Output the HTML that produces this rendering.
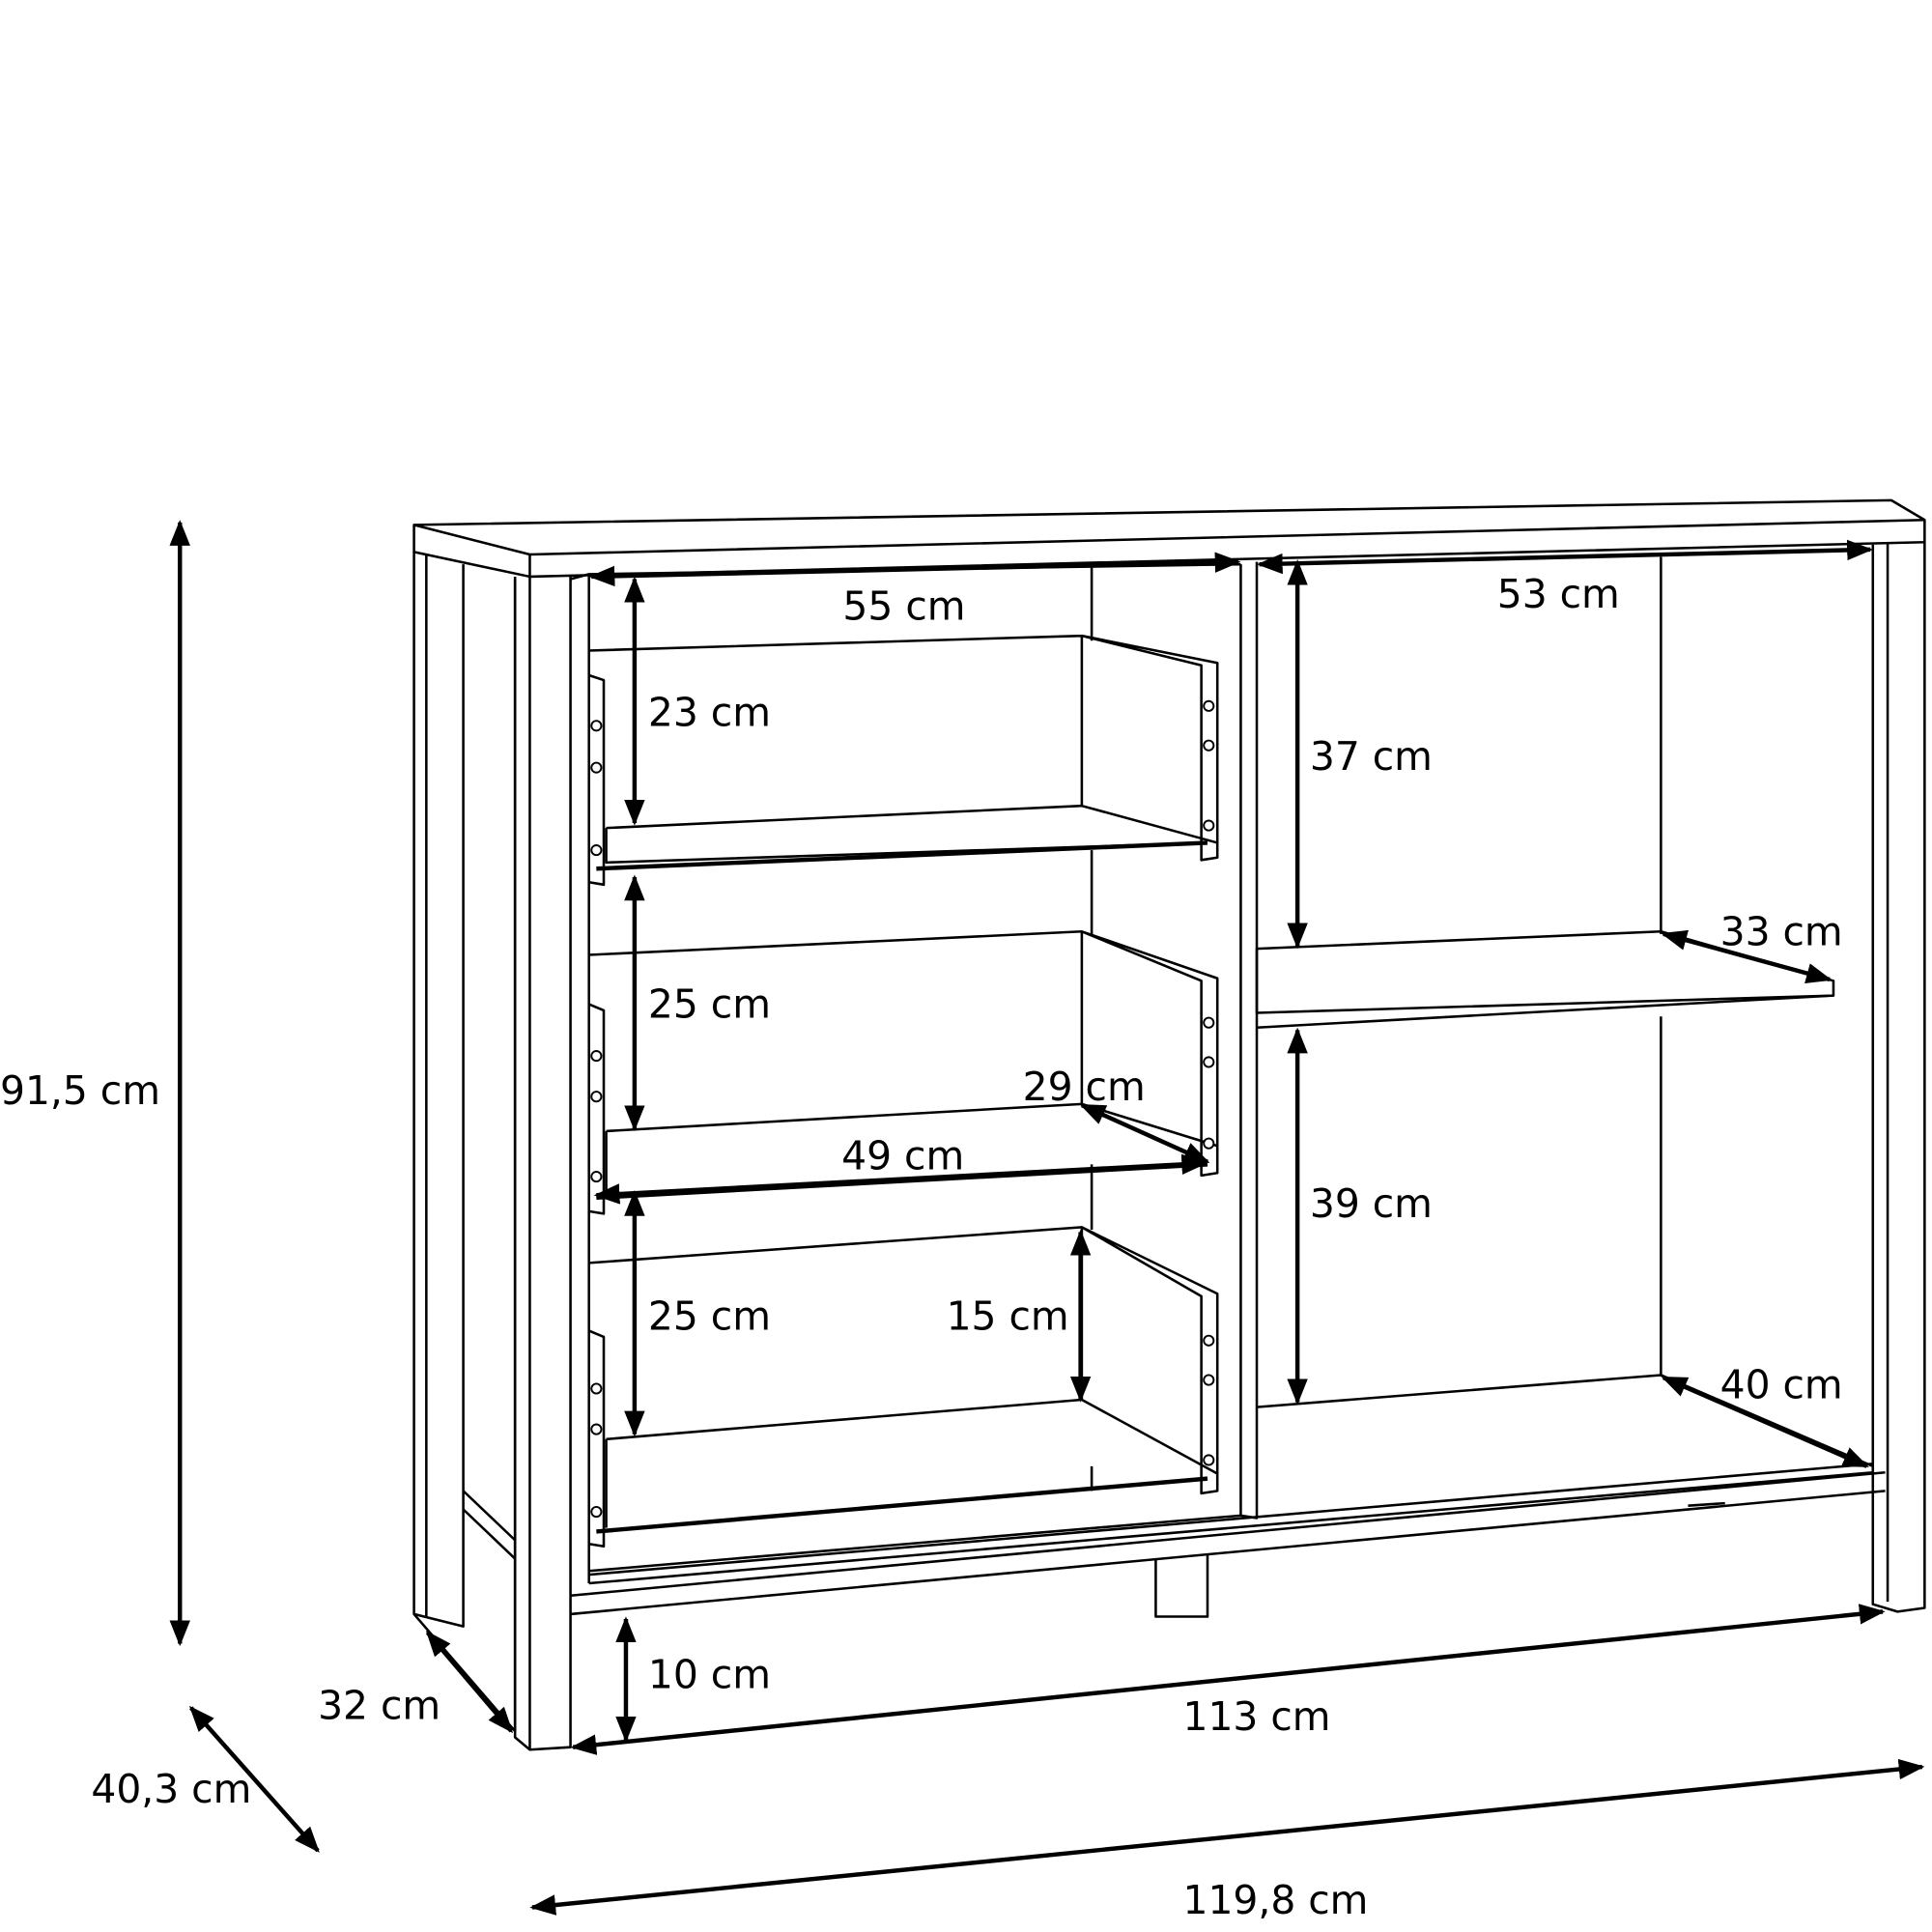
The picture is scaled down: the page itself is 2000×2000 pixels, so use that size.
<!DOCTYPE html>
<html><head><meta charset="utf-8"><style>
html,body{margin:0;padding:0;background:#fff}
svg{display:block}
text{font-family:"DejaVu Sans","Liberation Sans",sans-serif;font-size:32px;fill:#000}
</style></head><body>
<svg width="2000" height="2000" viewBox="0 0 1568 1568" xmlns="http://www.w3.org/2000/svg">
<defs>
<marker id="a" viewBox="0 0 10 10" refX="9" refY="5" markerWidth="6" markerHeight="6" orient="auto-start-reverse" markerUnits="strokeWidth">
<path d="M0,1 L10,5 L0,9 z" fill="#000"/></marker>
</defs>
<g fill="none" stroke="#000" stroke-width="2" stroke-linejoin="round">
<path d="M336,426 L1535,406 L1562,422 L1562,440 L430,468 L336,448 Z" fill="#fff"/>
<path d="M336,426 L430,450 L1562,422"/>
<line x1="430" y1="450" x2="430" y2="468"/>
<path d="M336,448 L336,1310 L376,1320 L376,458"/>
<path d="M346,450 L346,1312"/>
<path d="M376,1210 L418,1250 M376,1225 L418,1265"/>
<path d="M336,1310 L418,1405 L418,470"/>
<path d="M418,468 L418,1410 L430,1420 L463,1418 L463,468"/>
<path d="M430,468 L430,1420"/>
<path d="M1520,442 L1520,1302 L1540,1308 L1562,1305 L1562,440"/>
<path d="M1532,440 L1532,1300"/>
<path d="M478,466 L478,1285"/>
<path d="M463,470 L478,466 L1007,458"/>
<path d="M1007,458 L1007,1230 L1020,1232 L1020,456"/>
<path d="M886,460 L886,520 M886,690 L886,760 M886,945 L886,998 M886,1190 L886,1210"/>
<path d="M1348,452 L1348,758 M1348,825 L1348,1117"/>
<path d="M463,1295 L1530,1195 M463,1310 L1530,1210"/>
<path d="M478,1278 L1520,1188 M478,1285 L1520,1195"/>
<path d="M1007,1230 L478,1275"/>
<path d="M938,1265 L938,1312 L980,1312 L980,1262"/>
<path d="M1370,1222 L1400,1220"/>
<path d="M1020,770 L1348,756 L1488,796 L1488,808 L1020,822 Z"/>
<path d="M1020,834 L1488,808"/>
<path d="M1020,1142 L1348,1116 L1520,1190"/>
<path d="M478,528 L878,516 L988,538 L988,696 L975,698 L975,540 L878,516 L878,654 L988,684"/>
<path d="M492,672 L878,654 M492,672 L492,700 L980,684"/>
<path d="M478,548 L490,552 L490,718 L478,716"/>
<path d="M478,775 L878,756 L988,794 L988,952 L975,954 L975,796 L878,756 L878,896 L988,930"/>
<path d="M492,918 L878,896 M492,918 L492,972"/>
<path d="M478,815 L490,820 L490,985 L478,983"/>
<path d="M478,1025 L878,996 L988,1050 L988,1210 L975,1212 L975,1052 L878,996 L878,1136 L988,1196"/>
<path d="M492,1168 L878,1136 M492,1168 L492,1240"/>
<path d="M478,1080 L490,1085 L490,1255 L478,1253"/>
</g>
<g fill="none" stroke="#000" stroke-width="3.5">
<path d="M484,705 L980,684"/>
<path d="M484,972 L980,945"/>
<path d="M484,1243 L980,1200"/>
</g>
<g fill="#fff" stroke="#000" stroke-width="1.5">
<circle cx="484" cy="589" r="4"/><circle cx="484" cy="623" r="4"/><circle cx="484" cy="690" r="4"/>
<circle cx="981" cy="573" r="4"/><circle cx="981" cy="605" r="4"/><circle cx="981" cy="670" r="4"/>
<circle cx="484" cy="857" r="4"/><circle cx="484" cy="890" r="4"/><circle cx="484" cy="955" r="4"/>
<circle cx="981" cy="830" r="4"/><circle cx="981" cy="862" r="4"/><circle cx="981" cy="928" r="4"/>
<circle cx="484" cy="1127" r="4"/><circle cx="484" cy="1160" r="4"/><circle cx="484" cy="1227" r="4"/>
<circle cx="981" cy="1088" r="4"/><circle cx="981" cy="1120" r="4"/><circle cx="981" cy="1185" r="4"/>
</g>
<g stroke="#000" stroke-width="3.5" marker-start="url(#a)" marker-end="url(#a)">
<line x1="146" y1="424" x2="146" y2="1334"/>
<line x1="155" y1="1386" x2="258" y2="1502"/>
<line x1="347" y1="1325" x2="415" y2="1405"/>
<line x1="432" y1="1548" x2="1560" y2="1434"/>
<line x1="465" y1="1418" x2="1528" y2="1308"/>
<line x1="508" y1="1314" x2="508" y2="1412"/>
<line x1="480" y1="468" x2="1005" y2="456"/>
<line x1="1022" y1="458" x2="1518" y2="446"/>
<line x1="515" y1="470" x2="515" y2="668"/>
<line x1="515" y1="712" x2="515" y2="916"/>
<line x1="515" y1="968" x2="515" y2="1164"/>
<line x1="877" y1="1000" x2="877" y2="1136"/>
<line x1="484" y1="970" x2="978" y2="944"/>
<line x1="878" y1="897" x2="980" y2="943"/>
<line x1="1053" y1="456" x2="1053" y2="768"/>
<line x1="1053" y1="836" x2="1053" y2="1138"/>
<line x1="1350" y1="758" x2="1485" y2="795"/>
<line x1="1350" y1="1118" x2="1515" y2="1190"/>
</g>
<g>
<text x="0" y="896">91,5 cm</text>
<text x="74" y="1463">40,3 cm</text>
<text x="258" y="1395">32 cm</text>
<text x="960" y="1553">119,8 cm</text>
<text x="960" y="1404">113 cm</text>
<text x="526" y="1370">10 cm</text>
<text x="684" y="503">55 cm</text>
<text x="1215" y="493">53 cm</text>
<text x="526" y="589">23 cm</text>
<text x="526" y="826">25 cm</text>
<text x="526" y="1079">25 cm</text>
<text x="768" y="1079">15 cm</text>
<text x="683" y="949">49 cm</text>
<text x="830" y="893">29 cm</text>
<text x="1063" y="625">37 cm</text>
<text x="1063" y="988">39 cm</text>
<text x="1396" y="767">33 cm</text>
<text x="1396" y="1135">40 cm</text>
</g>
</svg>
</body></html>
